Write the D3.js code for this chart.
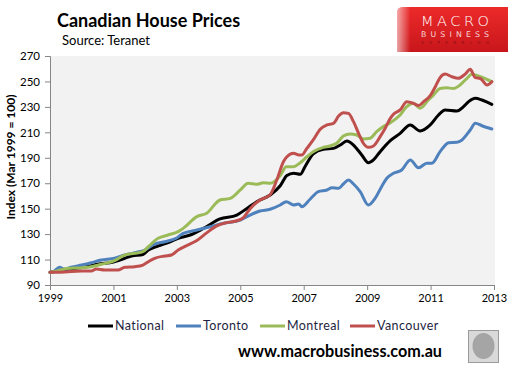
<!DOCTYPE html>
<html>
<head>
<meta charset="utf-8">
<script src="https://cdn.jsdelivr.net/npm/d3@7"></script>
<style>
  body { margin: 0; background: #fff; }
  svg { display: block; font-family: Lato, "Open Sans", sans-serif; }
</style>
</head>
<body>
<svg id="chart" width="513" height="369"></svg>
<script>
// series data, [year, index]
var national = [[1999.0,100],[1999.3,101],[1999.6,102.5],[2000.0,103.8],[2000.3,105.2],[2000.5,106.3],[2001.0,108],[2001.36,111],[2001.57,112.8],[2001.93,114],[2002.1,117.5],[2002.4,120.6],[2002.79,124],[2003.04,126.7],[2003.42,129.3],[2003.84,134.5],[2004.36,141.9],[2004.89,145],[2005.2,150],[2005.52,155.5],[2005.94,160.7],[2006.26,168],[2006.47,176],[2006.68,177.8],[2006.89,177],[2007.04,183],[2007.3,193],[2007.62,196.7],[2007.94,197.4],[2008.15,200],[2008.36,203.2],[2008.57,200],[2008.83,192.2],[2009.04,186.1],[2009.2,188.3],[2009.41,194.8],[2009.73,203.5],[2010.04,209.2],[2010.36,215.8],[2010.67,211],[2010.99,215.8],[2011.25,223.6],[2011.46,227.6],[2011.83,226.8],[2012.04,230.2],[2012.2,234.1],[2012.41,236.7],[2012.62,235.4],[2012.93,232]];

var toronto = [[1999.0,100],[1999.1,100.5],[1999.3,103.9],[1999.46,102.3],[1999.67,103.9],[2000.0,105.7],[2000.3,107.5],[2000.62,109.6],[2001.04,111],[2001.36,113.6],[2001.67,115.4],[2001.99,117.5],[2002.3,122.2],[2002.62,124],[2002.98,126.7],[2003.2,130.6],[2003.63,133.2],[2004.05,135.8],[2004.47,138.5],[2005.0,141],[2005.31,145],[2005.62,148.2],[2005.94,149.5],[2006.26,152.9],[2006.45,155.5],[2006.68,152.9],[2006.84,153.7],[2006.94,151.6],[2007.2,157.4],[2007.46,163.4],[2007.73,164.7],[2007.89,166.5],[2008.1,166],[2008.25,169.4],[2008.41,172.5],[2008.57,169.4],[2008.78,163.4],[2009.04,152.9],[2009.25,158.1],[2009.46,167.5],[2009.62,173.9],[2009.83,177.8],[2010.09,180.4],[2010.36,188.3],[2010.62,182.2],[2010.88,185.7],[2011.04,185.7],[2011.3,194.8],[2011.57,201.9],[2011.83,202.2],[2011.99,204],[2012.25,211.8],[2012.41,217.1],[2012.62,215.2],[2012.93,212.6]];

var montreal = [[1999.0,100],[1999.25,101.2],[1999.57,103.1],[2000.0,103.6],[2000.3,104.4],[2000.62,106.3],[2001.04,109.1],[2001.36,113.6],[2001.67,114.9],[2001.93,116.2],[2002.1,120.1],[2002.41,126.7],[2002.72,129.3],[2003.04,132],[2003.2,134.5],[2003.63,143.7],[2003.94,146.4],[2004.36,156.8],[2004.68,158.1],[2005.0,164.7],[2005.25,170],[2005.52,169.2],[2005.73,170.4],[2005.94,170],[2006.26,176],[2006.45,183],[2006.68,183],[2006.89,186.1],[2007.1,190.8],[2007.3,194.8],[2007.62,198.2],[2007.83,199.3],[2008.04,201.4],[2008.25,207.1],[2008.46,208.7],[2008.67,207.9],[2008.88,204.8],[2009.09,205.3],[2009.3,210.5],[2009.5,214.4],[2009.73,217.5],[2010.04,223.6],[2010.25,230.2],[2010.46,232.8],[2010.67,228.9],[2010.93,235.4],[2011.09,239.3],[2011.3,244.5],[2011.51,245],[2011.72,244.5],[2011.93,247.2],[2012.14,252.3],[2012.3,255.6],[2012.57,253.7],[2012.93,249.8]];

var vancouver = [[1999.0,100],[1999.25,100],[1999.57,100.5],[2000.0,101],[2000.3,101],[2000.46,102.6],[2000.72,101.8],[2001.14,101.8],[2001.36,103.9],[2001.67,104.4],[2001.93,105.7],[2002.1,108.3],[2002.3,111],[2002.62,112.8],[2002.83,113.6],[2003.04,117.5],[2003.31,121],[2003.63,125],[2003.94,131],[2004.26,136.5],[2004.57,139],[2004.89,140.5],[2005.1,143],[2005.31,150],[2005.62,156.8],[2005.94,161],[2006.15,172.5],[2006.36,186.9],[2006.47,190.8],[2006.68,193.5],[2006.85,192.2],[2006.94,192.2],[2007.1,197.4],[2007.3,204],[2007.52,212.4],[2007.73,215.8],[2007.94,217.1],[2008.1,222.8],[2008.25,225.4],[2008.41,224.9],[2008.57,218.4],[2008.73,209.2],[2008.88,201.4],[2009.04,198.2],[2009.2,199.3],[2009.41,206.6],[2009.57,213.2],[2009.73,221],[2009.83,224.2],[2010.04,227.6],[2010.25,234.1],[2010.46,232.8],[2010.62,231],[2010.78,234.1],[2010.99,238.8],[2011.15,245.9],[2011.3,253],[2011.46,255.8],[2011.67,253.7],[2011.88,252.5],[2012.09,255.8],[2012.25,259.5],[2012.41,253],[2012.57,252.3],[2012.78,247.2],[2012.93,249.8]];

var seriesNames = ["National", "Toronto", "Montreal", "Vancouver"];
var seriesColors = ["#000000", "#4f81bd", "#9bbb59", "#c0504d"];
var yTicks = [90, 110, 130, 150, 170, 190, 210, 230, 250, 270];
var xTicks = [1999, 2001, 2003, 2005, 2007, 2009, 2011, 2013];

var svg = d3.select("#chart");

var x = d3.scaleLinear().domain([1999, 2013]).range([50, 494]);
var y = d3.scaleLinear().domain([90, 270]).range([285, 56]);

// plot background
svg.append("rect")
    .attr("x", 50).attr("y", 56)
    .attr("width", 445).attr("height", 229)
    .attr("fill", "#f2f2f2");

// axes
var yAxis = d3.axisLeft(y).tickValues(yTicks).tickSize(5).tickPadding(5);
var gy = svg.append("g").attr("transform", "translate(50,0)").call(yAxis);
gy.selectAll("text").style("font-size", "11.5px").attr("fill", "#000");

var xAxis = d3.axisBottom(x).tickValues(xTicks).tickFormat(d3.format("d")).tickSize(5).tickPadding(4);
var gx = svg.append("g").attr("transform", "translate(0,285)").call(xAxis);
gx.selectAll("text").style("font-size", "11px").attr("fill", "#000");

svg.selectAll(".domain, .tick line").attr("stroke", "#868686");
svg.selectAll(".tick text").style("font-family", "Lato, sans-serif");

// lines
var line = d3.line()
    .x(function(d) { return x(d[0]); })
    .y(function(d) { return y(d[1]); })
    .curve(d3.curveMonotoneX);

var allSeries = [national, toronto, montreal, vancouver];
allSeries.forEach(function(s, i) {
    svg.append("path")
        .datum(s)
        .attr("d", line)
        .attr("fill", "none")
        .attr("stroke", seriesColors[i])
        .attr("stroke-width", 3)
        .attr("stroke-linejoin", "round")
        .attr("stroke-linecap", "round");
});

// y axis title
svg.append("text")
    .attr("transform", "translate(15,157) rotate(-90)")
    .attr("text-anchor", "middle")
    .style("font-size", "12px")
    .style("font-weight", "bold")
    .text("Index (Mar 1999 = 100)");

// titles
svg.append("text")
    .attr("x", 57).attr("y", 27)
    .style("font-size", "18px")
    .style("font-weight", "bold")
    .text("Canadian House Prices");

svg.append("text")
    .attr("x", 62).attr("y", 45)
    .style("font-size", "13px")
    .text("Source: Teranet");

// legend
var legendX = [88, 176, 260, 350];
seriesNames.forEach(function(name, i) {
    var g = svg.append("g").attr("transform", "translate(" + legendX[i] + ",326)");
    g.append("line")
        .attr("x1", 0).attr("x2", 25)
        .attr("stroke", seriesColors[i])
        .attr("stroke-width", 3);
    g.append("text")
        .attr("x", 27).attr("y", 4)
        .style("font-size", "12.5px")
        .style("letter-spacing", "0.4px")
        .attr("fill", "#1f1f3f")
        .text(name);
});

// footer url
svg.append("text")
    .attr("x", 238).attr("y", 357)
    .attr("textLength", 204)
    .attr("lengthAdjust", "spacingAndGlyphs")
    .style("font-size", "17px")
    .style("font-weight", "bold")
    .text("www.macrobusiness.com.au");

// logo box
var defs = svg.append("defs");
var grad = defs.append("linearGradient").attr("id", "logoGrad")
    .attr("x1", 0).attr("y1", 0).attr("x2", 0).attr("y2", 1);
grad.append("stop").attr("offset", "0%").attr("stop-color", "#ec2a2a");
grad.append("stop").attr("offset", "100%").attr("stop-color", "#c8161b");
var fade = defs.append("linearGradient").attr("id", "logoFade")
    .attr("x1", 0).attr("y1", 0).attr("x2", 1).attr("y2", 0);
fade.append("stop").attr("offset", "0%").attr("stop-color", "#fff").attr("stop-opacity", 0.6);
fade.append("stop").attr("offset", "12%").attr("stop-color", "#fff").attr("stop-opacity", 0);

var logoPath = "M403,7 L508,7 L508,52 L397,52 L397,13 Q397,7 403,7 Z";
svg.append("path").attr("d", logoPath).attr("fill", "url(#logoGrad)");
svg.append("path").attr("d", logoPath).attr("fill", "url(#logoFade)");

svg.append("text")
    .attr("x", 421).attr("y", 26)
    .attr("textLength", 68).attr("lengthAdjust", "spacing")
    .style("font-size", "14.5px")
    .style("font-weight", 200)
    .style("font-family", "'DejaVu Sans', sans-serif")
    .attr("fill", "#fff")
    .text("MACRO");
svg.append("text")
    .attr("x", 421).attr("y", 36.5)
    .attr("textLength", 68).attr("lengthAdjust", "spacing")
    .style("font-size", "7.8px")
    .style("font-family", "'DejaVu Sans', sans-serif")
    .attr("fill", "#f7d4d4")
    .text("BUSINESS");
svg.append("text")
    .attr("x", 421).attr("y", 44)
    .attr("textLength", 68).attr("lengthAdjust", "spacing")
    .style("font-size", "4px")
    .style("font-family", "'DejaVu Sans', sans-serif")
    .attr("fill", "#8a0f12")
    .text("SUPERBLOG");

// wolf picture placeholder
svg.append("rect")
    .attr("x", 468.5).attr("y", 330.5)
    .attr("width", 30).attr("height", 32)
    .attr("fill", "#d9d9d9")
    .attr("stroke", "#9a9a9a");
svg.append("ellipse")
    .attr("cx", 483.5).attr("cy", 346)
    .attr("rx", 11).attr("ry", 13)
    .attr("fill", "#8f8f8f")
    .attr("opacity", 0.7);
</script>
</body>
</html>
